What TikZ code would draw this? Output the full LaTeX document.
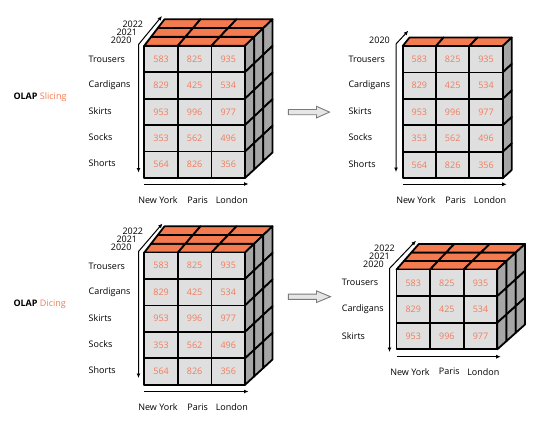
\documentclass[tikz,border=0pt]{standalone}
\usepackage{fontspec}
\setmainfont{Open Sans}
\usetikzlibrary{arrows.meta}
\definecolor{topor}{HTML}{F47A50}
\definecolor{numor}{HTML}{F27C5C}
\definecolor{frontg}{HTML}{DFDFDF}
\definecolor{sideg}{HTML}{A6A6A6}
\definecolor{blkfill}{HTML}{E6E6E6}
\definecolor{blkline}{HTML}{7A7A7A}
% cube geometry setter
\newcommand\setcube[8]{\def\FXa{#1}\def\FYa{#2}\def\FXb{#3}\def\FYb{#4}\def\BXa{#5}\def\BYa{#6}\def\BXb{#7}\def\BYb{#8}}
\newcommand\Pt[3]{({(1-(#3))*(\FXa+(#1)*(\FXb-\FXa))+(#3)*(\BXa+(#1)*(\BXb-\BXa))},{(1-(#3))*(\FYa+(#2)*(\FYb-\FYa))+(#3)*(\BYa+(#2)*(\BYb-\BYa))})}
% \drawcube{prefix}{rows}{depth}
\newcommand\drawcube[3]{%
  \foreach \k in {1,...,#3}{%
    \foreach \j in {0,1,2}{%
      \draw[edge,fill=topor] \Pt{\j/3}{0}{(\k-1)/#3} -- \Pt{(\j+1)/3}{0}{(\k-1)/#3} -- \Pt{(\j+1)/3}{0}{\k/#3} -- \Pt{\j/3}{0}{\k/#3} -- cycle;
    }
    \foreach \i in {1,...,#2}{%
      \draw[edge,fill=sideg] \Pt{1}{(\i-1)/#2}{(\k-1)/#3} -- \Pt{1}{\i/#2}{(\k-1)/#3} -- \Pt{1}{\i/#2}{\k/#3} -- \Pt{1}{(\i-1)/#2}{\k/#3} -- cycle;
    }
  }
  \foreach \i in {1,...,#2}{%
    \foreach \j in {1,2,3}{%
      \draw[edge,fill=frontg] \Pt{(\j-1)/3}{(\i-1)/#2}{0} rectangle \Pt{\j/3}{\i/#2}{0};
    }
  }
  \foreach \r [count=\i] in {{583,825,935},{829,425,534},{953,996,977},{353,562,496},{564,826,356}}{%
    \ifnum\i>#2\else
    \foreach \v [count=\j] in \r {%
      \node[num] (#1-\i-\j) at \Pt{(\j-0.5)/3}{(\i-0.5)/#2}{0} {\v};
    }\fi
  }
}
\tikzset{
  txt/.style={inner sep=0pt,font=\fontsize{9}{10}\selectfont},
  num/.style={txt,text=numor},
  edge/.style={draw=black,line width=1.8pt,line join=round},
  axis/.style={line width=1pt,-{Latex[length=4.5pt,width=4pt]}},
  axis2/.style={line width=1pt,{Latex[length=4.5pt,width=4pt]}-{Latex[length=4.5pt,width=4pt]}},
  blk/.style={fill=blkfill,draw=blkline,line width=0.9pt,line join=miter},
}
\begin{document}
\begin{tikzpicture}[x=1pt,y=-1pt]
\useasboundingbox (0,0) rectangle (543,420);
\fill[white] (0,0) rectangle (543,420);

% ---------- Cube A (slicing, full) ----------
\setcube{144.3}{45.7}{245}{178}{164.5}{19.3}{272.5}{152.5}
\drawcube{a}{5}{3}
\coordinate (aT) at (162,16);
\coordinate (aC) at (138.5,44.5);
\coordinate (aB) at (138.5,172.5);
\draw[axis2] (aT) -- (aC) -- (aB);
\coordinate (aH1) at (144.3,184);
\coordinate (aH2) at (248.5,184);
\draw[axis] (aH1) -- (aH2);
\node[txt,anchor=east] (ay22) at (143.3,24.3) {2022};
\node[txt,anchor=east] (ay21) at (137.3,32) {2021};
\node[txt,anchor=east] (ay20) at (131.7,40) {2020};
\foreach \t/\y [count=\n] in {Trousers/59,Cardigans/85.5,Skirts/111.5,Socks/137.5,Shorts/163.5}
  \node[txt,anchor=west] (ar\n) at (88.5,\y) {\t};
\node[txt] (ac1) at (158,200) {New York};
\node[txt] (ac2) at (197.7,200) {Paris};
\node[txt] (ac3) at (231.8,200) {London};
\node[txt,anchor=west] (slicing) at (13.3,97.3) {\textbf{OLAP} \textcolor{topor}{Slicing}};

% ---------- Cube B (slice) ----------
\setcube{402.7}{46}{502.7}{178.3}{409.5}{37.5}{511.7}{170}
\drawcube{b}{5}{1}
\coordinate (bT) at (408.3,30.7);
\coordinate (bC) at (396,44);
\coordinate (bB) at (396,172);
\draw[axis2] (bT) -- (bC) -- (bB);
\coordinate (bH1) at (402.7,184.3);
\coordinate (bH2) at (506.7,184.3);
\draw[axis] (bH1) -- (bH2);
\node[txt,anchor=east] (by20) at (390,40.7) {2020};
\foreach \t/\y [count=\n] in {Trousers/59,Cardigans/85.3,Skirts/111.3,Socks/137.3,Shorts/163.7}
  \node[txt,anchor=west] (br\n) at (348.3,\y) {\t};
\node[txt] (bc1) at (416,200) {New York};
\node[txt] (bc2) at (455.7,200) {Paris};
\node[txt] (bc3) at (490,200) {London};

% ---------- Cube C (dicing, full) ----------
\setcube{144.3}{252.5}{245}{384.8}{164.5}{226.3}{272.5}{359.5}
\drawcube{c}{5}{3}
\coordinate (cT) at (162.5,223.5);
\coordinate (cC) at (138.5,251.5);
\coordinate (cB) at (138.5,378);
\draw[axis2] (cT) -- (cC) -- (cB);
\coordinate (cH1) at (144.3,391.5);
\coordinate (cH2) at (248.5,391.5);
\draw[axis] (cH1) -- (cH2);
\node[txt,anchor=east] (cy22) at (143.3,231.7) {2022};
\node[txt,anchor=east] (cy21) at (137.3,239.2) {2021};
\node[txt,anchor=east] (cy20) at (131.7,246.8) {2020};
\foreach \t/\y [count=\n] in {Trousers/266,Cardigans/292.5,Skirts/318.5,Socks/344.5,Shorts/370.5}
  \node[txt,anchor=west] (cr\n) at (88.5,\y) {\t};
\node[txt] (cc1) at (158,407) {New York};
\node[txt] (cc2) at (197.7,407) {Paris};
\node[txt] (cc3) at (231.8,407) {London};
\node[txt,anchor=west] (dicing) at (13.3,304) {\textbf{OLAP} \textcolor{topor}{Dicing}};

% ---------- Cube D (dice) ----------
\setcube{396.5}{269.5}{497.3}{349.3}{418.8}{244}{525}{324.5}
\drawcube{d}{3}{3}
\coordinate (dT) at (416,240.7);
\coordinate (dC) at (389.5,268.5);
\coordinate (dB) at (389.5,352);
\draw[axis2] (dT) -- (dC) -- (dB);
\coordinate (dH1) at (396.7,356.7);
\coordinate (dH2) at (500.7,356.7);
\draw[axis] (dH1) -- (dH2);
\node[txt,anchor=east] (dy22) at (395,248.3) {2022};
\node[txt,anchor=east] (dy21) at (390,256) {2021};
\node[txt,anchor=east] (dy20) at (384,264.3) {2020};
\foreach \t/\y [count=\n] in {Trousers/282.7,Cardigans/309.5,Skirts/336}
  \node[txt,anchor=west] (dr\n) at (341.7,\y) {\t};
\node[txt] (dc1) at (410,371.7) {New York};
\node[txt] (dc2) at (449.3,371.7) {Paris};
\node[txt] (dc3) at (483.3,371.7) {London};

% ---------- block arrows ----------
\draw[blk] (288.3,109.5) -- (316.5,109.5) -- (316.5,106.3) -- (329.5,112.1) -- (316.5,117.9) -- (316.5,114.7) -- (288.3,114.7) -- cycle;
\draw[blk] (288.3,294.1) -- (316.5,294.1) -- (316.5,290.9) -- (330.5,296.7) -- (316.5,302.5) -- (316.5,299.3) -- (288.3,299.3) -- cycle;
\end{tikzpicture}
\end{document}
